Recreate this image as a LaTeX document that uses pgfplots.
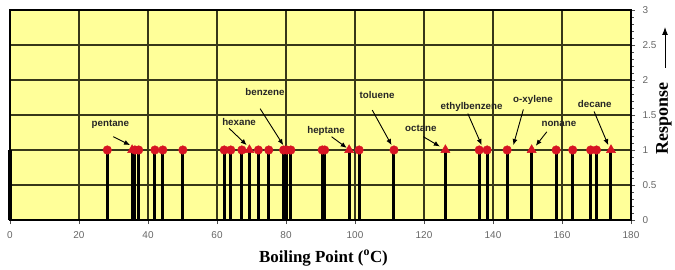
\documentclass[border=0pt]{standalone}
\usepackage{fontspec}
\setmainfont{Liberation Serif}
\newfontfamily\lsans{Liberation Sans}
\usepackage{pgfplots}
\pgfplotsset{compat=1.18}
\usetikzlibrary{arrows.meta}
\definecolor{bgyellow}{RGB}{255,255,153}
\definecolor{gridc}{RGB}{55,55,25}
\definecolor{mred}{RGB}{215,20,35}
\begin{document}
\begin{tikzpicture}[
  lab/.style={font=\lsans\bfseries\fontsize{9.8}{11}\selectfont, text=black!85, inner sep=0pt},
  arr/.style={-{Latex[length=6bp,width=5bp]}, line width=0.9bp, black}
]
\begin{axis}[
  scale only axis, width=621bp, height=210bp,
  xmin=0, xmax=180, ymin=0, ymax=3,
  xtick={0,20,...,180}, ytick={0,0.5,...,3},
  minor y tick num=4,
  grid=major, major grid style={gridc, line width=1.2bp},
  axis background/.style={fill=bgyellow},
  axis line style={black, line width=1.5bp},
  tick align=outside, xtick pos=bottom, ytick pos=right, yticklabel pos=right,
  major tick length=4bp, minor tick length=2.5bp,
  tick style={black!70, line width=0.8bp},
  tick label style={font=\lsans\fontsize{10}{12}\selectfont, text=black!60},
  /pgf/number format/assume math mode=true,
  xticklabel shift=4bp, yticklabel shift=4bp,
  clip=false,
]
\addplot[ycomb, black, line width=3bp, no markers] coordinates {
 (0,1) (28.2,1) (35.4,1) (36.2,1) (37.3,1) (42,1) (44.3,1) (50.1,1)
 (62.1,1) (64,1) (67.2,1) (69.4,1) (72,1) (75,1) (79.3,1) (80.2,1) (81.4,1)
 (90.5,1) (91.2,1) (98.3,1) (101.2,1) (111.3,1) (126.2,1) (136,1) (138.3,1)
 (144.1,1) (151.2,1) (158.3,1) (163.1,1) (168.3,1) (170,1) (174.2,1)
};
\addplot[only marks, mark=*, mark size=4.3bp, mred, mark options={draw=mred, fill=mred}] coordinates {
 (28.2,1) (36.2,1) (37.3,1) (42,1) (44.3,1) (50.1,1)
 (62.1,1) (64,1) (67.2,1) (72,1) (75,1) (79.3,1) (80.2,1) (81.4,1)
 (90.5,1) (91.2,1) (101.2,1) (111.3,1) (136,1) (138.3,1)
 (144.1,1) (158.3,1) (163.1,1) (168.3,1) (170,1)
};
\addplot[only marks, mark=triangle*, mark size=5.3bp, mred, mark options={draw=mred, fill=mred}] coordinates {
 (35.4,1) (69.4,1) (98.3,1) (126.2,1) (151.2,1) (174.2,1)
};
\node[lab] at (axis cs:29.1,1.36) {pentane};
\draw[arr] (axis cs:29.9,1.19) -- (axis cs:34.8,1.07);
\node[lab] at (axis cs:66.4,1.40) {hexane};
\draw[arr] (axis cs:63.5,1.31) -- (axis cs:68.6,1.07);
\node[lab] at (axis cs:73.9,1.83) {benzene};
\draw[arr] (axis cs:72.5,1.59) -- (axis cs:79.2,1.07);
\node[lab] at (axis cs:91.6,1.27) {heptane};
\draw[arr] (axis cs:93.2,1.19) -- (axis cs:97.6,1.03);
\node[lab] at (axis cs:106.4,1.78) {toluene};
\draw[arr] (axis cs:105,1.57) -- (axis cs:110.6,1.07);
\node[lab] at (axis cs:119.1,1.31) {octane};
\draw[arr] (axis cs:119.8,1.19) -- (axis cs:124.6,1.05);
\node[lab] at (axis cs:133.8,1.61) {ethylbenzene};
\draw[arr] (axis cs:132.7,1.52) -- (axis cs:136.7,1.07);
\node[lab] at (axis cs:151.6,1.71) {o-xylene};
\draw[arr] (axis cs:148.8,1.58) -- (axis cs:145.9,1.07);
\node[lab] at (axis cs:159.1,1.37) {nonane};
\draw[arr] (axis cs:155.6,1.26) -- (axis cs:152.4,1.06);
\node[lab] at (axis cs:169.5,1.66) {decane};
\draw[arr] (axis cs:169.3,1.55) -- (axis cs:173.4,1.07);
\end{axis}
\node[font=\bfseries\fontsize{17}{20}\selectfont] at (313.5bp,-38bp) {Boiling Point (\textsuperscript{o}C)};
\node[rotate=90, font=\bfseries\fontsize{18}{20}\selectfont, inner sep=0pt] at (654bp,101.5bp) {Response};
\draw[-{Latex[length=8bp,width=6bp]}, line width=1bp] (655bp,152bp) -- (655bp,193bp);
\pgfresetboundingbox
\useasboundingbox (-10bp,-50bp) rectangle (665bp,220bp);
\end{tikzpicture}
\end{document}
